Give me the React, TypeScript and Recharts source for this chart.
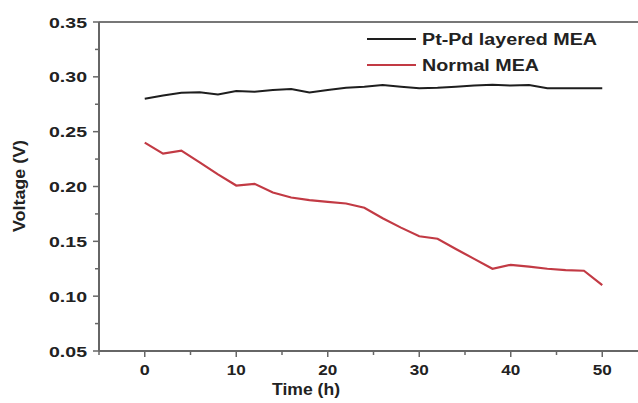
import React from 'react';
import { LineChart, Line, XAxis, YAxis, ReferenceLine, Legend } from 'recharts';

const timeH = [0, 2, 4, 6, 8, 10, 12, 14, 16, 18, 20, 22, 24, 26, 28, 30, 32, 34, 36, 38, 40, 42, 44, 46, 48, 50];
const ptPdVoltage = [0.280, 0.283, 0.2855, 0.286, 0.284, 0.287, 0.2865, 0.288, 0.289, 0.2858, 0.288, 0.290, 0.291, 0.2925, 0.291, 0.2897, 0.290, 0.291, 0.292, 0.2927, 0.292, 0.2925, 0.2897, 0.2897, 0.2897, 0.2897];
const normalVoltage = [0.240, 0.230, 0.2327, 0.222, 0.211, 0.2009, 0.2024, 0.1945, 0.190, 0.1875, 0.186, 0.1845, 0.1806, 0.171, 0.1625, 0.1546, 0.1524, 0.143, 0.134, 0.125, 0.1286, 0.127, 0.125, 0.1238, 0.1232, 0.110];
const xTicks = [-5, 0, 5, 10, 15, 20, 25, 30, 35, 40, 45, 50, 55];
const xLabelled = [0, 10, 20, 30, 40, 50];
const yTicks = [0.05, 0.075, 0.1, 0.125, 0.15, 0.175, 0.2, 0.225, 0.25, 0.275, 0.3, 0.325, 0.35];
const seriesNames = ['Pt-Pd layered MEA', 'Normal MEA'];
const seriesColors = ['#1e1e1e', '#c23a44'];

const data = timeH.map((t, i) => ({ t, ptpd: ptPdVoltage[i], normal: normalVoltage[i] }));

const FONT = '"Liberation Sans", Arial, sans-serif';
const AXIS = '#666';

const XTick = (props: any) => {
  const { x, y, payload } = props;
  const v = payload.value;
  const major = v % 10 === 0;
  return (
    <g>
      <line x1={x} x2={x} y1={y} y2={y + (major ? 6 : 4)} stroke={AXIS} strokeWidth={1.5} />
      {xLabelled.includes(v) && (
        <text x={x} y={y + 24} textAnchor="middle" fontFamily={FONT} fontWeight="bold" fontSize={15} fill="#222"
          textLength={v === 0 ? 10 : 19} lengthAdjust="spacingAndGlyphs">
          {v}
        </text>
      )}
    </g>
  );
};

const YTick = (props: any) => {
  const { x, y, payload } = props;
  const v = payload.value;
  const major = Math.round(v * 1000) % 50 === 0;
  return (
    <g>
      <line x1={x - (major ? 6 : 4)} x2={x} y1={y} y2={y} stroke={AXIS} strokeWidth={1.5} />
      {major && (
        <text x={x - 12} y={y + 5.5} textAnchor="end" fontFamily={FONT} fontWeight="bold" fontSize={15} fill="#222"
          textLength={38} lengthAdjust="spacingAndGlyphs">
          {v.toFixed(2)}
        </text>
      )}
    </g>
  );
};

const LegendBox = () => (
  <svg width={270} height={60} style={{ display: 'block' }}>
    {seriesNames.map((name, i) => (
      <g key={name}>
        <line x1={0} x2={49} y1={11 + i * 26} y2={11 + i * 26} stroke={seriesColors[i]} strokeWidth={2.2} />
        <text x={55} y={17 + i * 26} fontFamily={FONT} fontWeight="bold" fontSize={16} fill="#222"
          textLength={i === 0 ? 175 : 117} lengthAdjust="spacingAndGlyphs">
          {name}
        </text>
      </g>
    ))}
  </svg>
);

export default function App() {
  return (
    <div style={{ position: 'absolute', left: 0, top: 0, width: 638, height: 403, overflow: 'hidden', background: '#fff' }}>
      <LineChart width={660} height={403} data={data} margin={{ top: 22, right: 12, bottom: 0, left: 0 }}>
        <XAxis
          dataKey="t"
          type="number"
          domain={[-5, 55]}
          ticks={xTicks}
          allowDataOverflow
          height={52}
          axisLine={{ stroke: AXIS, strokeWidth: 2 }}
          tickLine={false}
          tickSize={0}
          tickMargin={0}
          tick={<XTick />}
          interval={0}
          label={{
            content: (p: any) => {
              const vb = p.viewBox || {};
              return (
                <text x={306} y={(vb.y || 351) + 44} textAnchor="middle" fontFamily={FONT} fontWeight="bold" fontSize={17} fill="#222"
                  textLength={68} lengthAdjust="spacingAndGlyphs">
                  Time (h)
                </text>
              );
            },
          }}
        />
        <YAxis
          type="number"
          domain={[0.05, 0.35]}
          ticks={yTicks}
          allowDataOverflow
          width={99}
          axisLine={{ stroke: AXIS, strokeWidth: 2 }}
          tickLine={false}
          tickSize={0}
          tickMargin={0}
          tick={<YTick />}
          interval={0}
          label={{
            content: () => (
              <text x={25} y={186} transform="rotate(-90 25 186)" textAnchor="middle" fontFamily={FONT} fontWeight="bold" fontSize={16} fill="#222"
                textLength={92} lengthAdjust="spacingAndGlyphs">
                Voltage (V)
              </text>
            ),
          }}
        />
        <ReferenceLine y={0.35} stroke="#777" strokeWidth={2} />
        <Legend
          layout="horizontal"
          verticalAlign="middle"
          align="center"
          content={() => <LegendBox />}
          wrapperStyle={{ position: 'absolute', left: 367, top: 28, width: 270, height: 60 }}
        />
        <Line type="linear" dataKey="ptpd" name={seriesNames[0]} stroke={seriesColors[0]} strokeWidth={2} dot={false} isAnimationActive={false} />
        <Line type="linear" dataKey="normal" name={seriesNames[1]} stroke={seriesColors[1]} strokeWidth={2.2} dot={false} isAnimationActive={false} />
      </LineChart>
    </div>
  );
}
